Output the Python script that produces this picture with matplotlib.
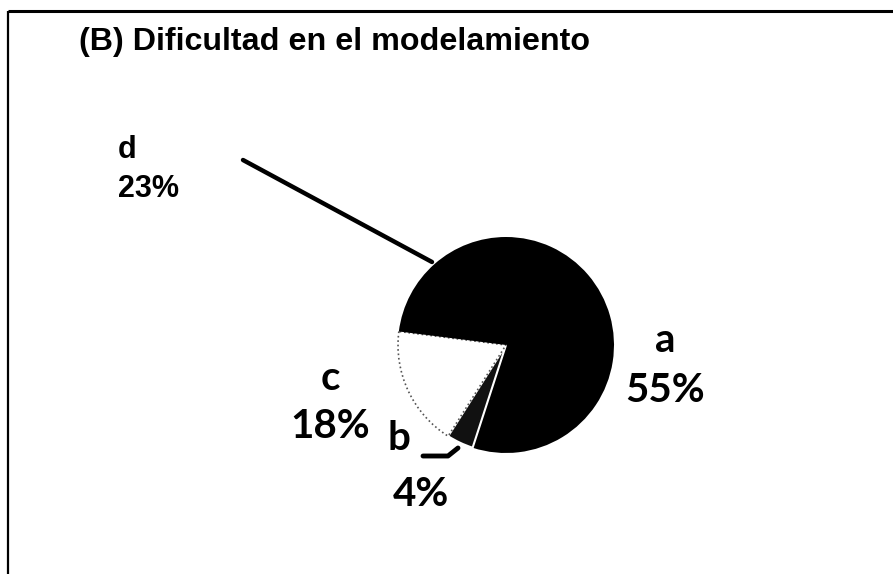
import matplotlib.pyplot as plt

# answer shares for the difficulty question
labels = ['a', 'b', 'c', 'd']
shares = [55, 4, 18, 23]
colors = ['black', '#111111', 'white', 'black']

W, H = 893, 574

fig = plt.figure(figsize=(W / 100, H / 100), dpi=100)
ax = fig.add_axes([0, 0, 1, 1])


# pixel position measured from the top-left corner
def py(y):
    return H - y


wedges, _ = ax.pie(shares, colors=colors, center=(506, py(345)), radius=108,
                   startangle=90, counterclock=False,
                   wedgeprops=dict(linewidth=0))
wedges[1].set_edgecolor('white')
wedges[1].set_linewidth(1.5)
wedges[2].set_edgecolor('#555555')
wedges[2].set_linestyle(':')
wedges[2].set_linewidth(1.2)

# pie() resets the limits, so set the pixel frame afterwards
ax.set_xlim(0, W)
ax.set_ylim(0, H)
ax.set_aspect('equal')
ax.axis('off')

# frame lines (top and left only)
ax.plot([8, W], [py(11), py(11)], color='black', lw=2.2, solid_capstyle='butt')
ax.plot([8, 8], [py(11), 0], color='black', lw=1.6, solid_capstyle='butt')

ax.text(79, py(42), '(B) Dificultad en el modelamiento', fontsize=23.2,
        fontweight='bold', family='Liberation Sans', va='center', ha='left')

# leader lines
ax.plot([243, 432], [py(160), py(262)], color='black', lw=3.2, solid_capstyle='round')
ax.plot([423, 448, 458], [py(456), py(456), py(448)], color='black', lw=3.5,
        solid_capstyle='round')

# slice labels
arial = dict(family='Liberation Sans', fontweight='bold', fontsize=22,
             ha='left', va='center')
ax.text(118, py(150), labels[3], **arial)
ax.text(118, py(189), f'{shares[3]}%', **arial)

cal = dict(family='Lato', fontweight='bold', fontsize=29, ha='center', va='center')
ax.text(665, py(341), labels[0], **cal)
ax.text(665, py(390), f'{shares[0]}%', **cal)
ax.text(330, py(379), labels[2], **cal)
ax.text(330, py(427), f'{shares[2]}%', **cal)
ax.text(399, py(439), labels[1], **cal)
ax.text(421, py(495), f'{shares[1]}%', **cal)

fig.savefig('out.png', dpi=100, facecolor='white')
